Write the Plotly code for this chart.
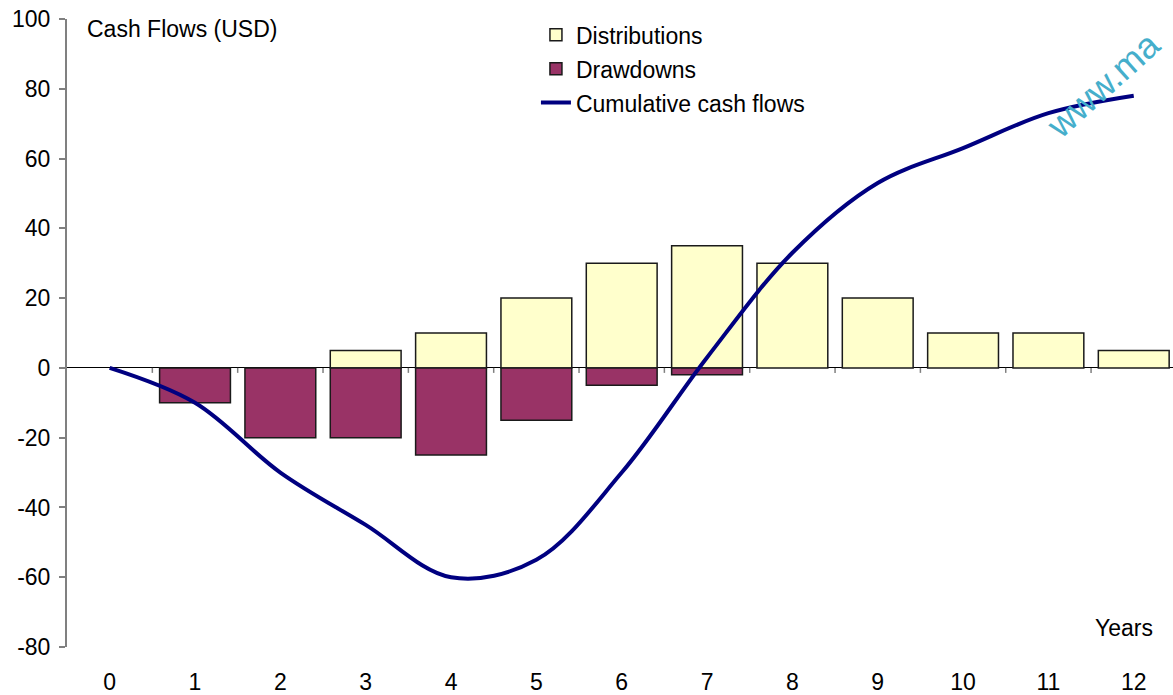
import plotly.graph_objects as go

# Fund cash flows per year
years = [0, 1, 2, 3, 4, 5, 6, 7, 8, 9, 10, 11, 12]
distributions = [0, 0, 0, 5, 10, 20, 30, 35, 30, 20, 10, 10, 5]
drawdowns = [0, -10, -20, -20, -25, -15, -5, -2, 0, 0, 0, 0, 0]
cumulative = [0, -10, -30, -45, -60, -55, -30, 3, 33, 53, 63, 73, 78]
y_ticks = [-80, -60, -40, -20, 0, 20, 40, 60, 80, 100]

FONT = "Liberation Sans, Arial, sans-serif"
FS = 23
x_range = [-0.5, 12.46]
y_range = [-80, 100]


def nonzero(xs, vs):
    """Keep only the years that actually have a cash flow."""
    pairs = [(x, v) for x, v in zip(xs, vs) if v != 0]
    return [p[0] for p in pairs], [p[1] for p in pairs]


dx, dy = nonzero(years, distributions)
wx, wy = nonzero(years, drawdowns)

fig = go.Figure()
fig.add_trace(go.Bar(
    x=dx, y=dy, name="Distributions", width=0.83, legendgroup="a",
    marker=dict(color="#FFFFCC", line=dict(color="#1a1a1a", width=1.5)),
))
fig.add_trace(go.Bar(
    x=wx, y=wy, name="Drawdowns", width=0.83, legendgroup="b",
    marker=dict(color="#993366", line=dict(color="#1a1a1a", width=1.5)),
))
fig.add_trace(go.Scatter(
    x=years, y=cumulative, name="Cumulative cash flows", mode="lines",
    legendgroup="c",
    line=dict(color="#000080", width=4, shape="spline", smoothing=1.0),
))

# small tick marks hanging below the zero line, between consecutive years
boundary_ticks = [
    dict(type="line", xref="x", yref="y", x0=y + 0.5, x1=y + 0.5,
         ysizemode="pixel", yanchor=0, y0=0, y1=-5,
         line=dict(color="#808080", width=1.5))
    for y in years[:-1]
]

fig.update_layout(
    width=1173, height=695,
    margin=dict(l=67, r=0, t=19, b=45),
    paper_bgcolor="white", plot_bgcolor="white",
    barmode="overlay",
    font=dict(family=FONT, size=FS, color="black"),
    showlegend=True,
    legend=dict(x=0.424, y=1.009, xanchor="left", yanchor="top",
                bgcolor="rgba(0,0,0,0)", font=dict(size=FS),
                traceorder="grouped", tracegroupgap=1, itemwidth=30),
    xaxis=dict(
        range=x_range, tickmode="array", tickvals=years,
        ticktext=[str(y) for y in years],
        showline=False, showgrid=False, zeroline=False, ticks="",
        ticklabelstandoff=19,
    ),
    yaxis=dict(
        range=y_range, tickmode="array", tickvals=y_ticks,
        ticktext=[str(v) for v in y_ticks],
        showgrid=False, zeroline=True, zerolinecolor="black", zerolinewidth=1,
        showline=True, linecolor="#808080", linewidth=2,
        ticks="outside", ticklen=6, tickcolor="#808080", tickwidth=1.5,
        ticklabelstandoff=4,
    ),
    shapes=boundary_ticks,
    annotations=[
        dict(text="Cash Flows (USD)", xref="paper", yref="paper",
             x=0.016, y=1.008, xanchor="left", yanchor="top",
             showarrow=False, font=dict(size=FS)),
        dict(text="Years", xref="paper", yref="paper",
             x=0.956, y=0.03, xanchor="center", yanchor="middle",
             showarrow=False, font=dict(size=FS)),
        dict(text="www.ma", xref="paper", yref="paper",
             x=0.937, y=0.896, xanchor="center", yanchor="middle",
             textangle=-42, showarrow=False,
             font=dict(size=36, color="#45AECB")),
    ],
)

fig.write_html("out.html")
